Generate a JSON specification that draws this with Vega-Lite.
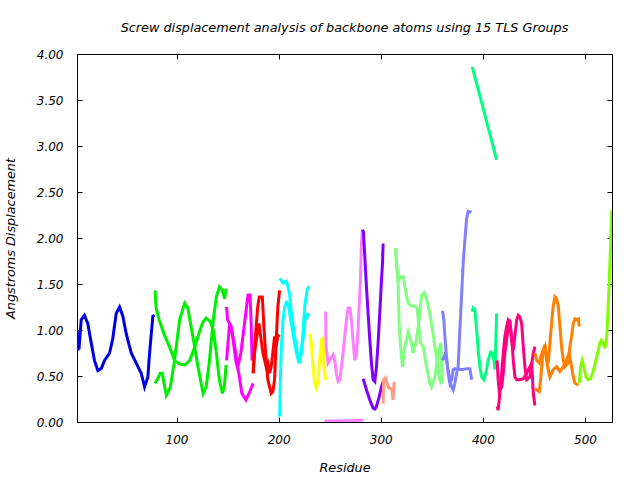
{
  "$schema": "https://vega.github.io/schema/vega-lite/v6.json",
  "width": 535,
  "height": 368,
  "autosize": {"type": "none"},
  "padding": {"left": 77, "top": 54, "right": 28, "bottom": 58},
  "background": "white",
  "title": {"text": "Screw displacement analysis of backbone atoms using 15 TLS Groups", "font": "DejaVu Sans", "fontStyle": "italic", "fontWeight": "normal", "fontSize": 12.8, "offset": 13, "anchor": "middle", "color": "black"},
  "config": {
    "view": {"stroke": "black", "strokeWidth": 1},
    "axis": {"grid": false, "domain": false, "tickColor": "black", "tickSize": -5, "labelFont": "DejaVu Sans", "labelFontStyle": "italic", "labelFontSize": 12, "labelColor": "black", "titleFont": "DejaVu Sans", "titleFontStyle": "italic", "titleFontWeight": "normal", "titleFontSize": 12.8, "titleColor": "black"}
  },
  "data": {"values": [
    {"g":"g1","t":"a","r":2.5,"v":1.00},{"g":"g1","t":"a","r":3.2,"v":0.79},{"g":"g1","t":"a","r":4.5,"v":0.80},{"g":"g1","t":"a","r":6.6,"v":1.11},{"g":"g1","t":"a","r":9.8,"v":1.16},{"g":"g1","t":"a","r":13.1,"v":1.07},{"g":"g1","t":"a","r":16.4,"v":0.86},{"g":"g1","t":"a","r":19.6,"v":0.67},{"g":"g1","t":"a","r":22.9,"v":0.56},{"g":"g1","t":"a","r":26.2,"v":0.58},{"g":"g1","t":"a","r":29.5,"v":0.67},{"g":"g1","t":"a","r":34.4,"v":0.75},{"g":"g1","t":"a","r":37.6,"v":0.91},{"g":"g1","t":"a","r":40.9,"v":1.18},{"g":"g1","t":"a","r":44.2,"v":1.25},{"g":"g1","t":"a","r":47.4,"v":1.15},{"g":"g1","t":"a","r":50.7,"v":0.96},{"g":"g1","t":"a","r":55.6,"v":0.75},{"g":"g1","t":"a","r":60.5,"v":0.64},{"g":"g1","t":"a","r":65.4,"v":0.53},{"g":"g1","t":"a","r":68.7,"v":0.38},{"g":"g1","t":"a","r":71.9,"v":0.49},{"g":"g1","t":"a","r":73.6,"v":0.75},{"g":"g1","t":"a","r":76.8,"v":1.15},{"g":"g1","t":"a","r":78.5,"v":1.16},
    {"g":"g2","t":"a","r":79,"v":1.43},{"g":"g2","t":"a","r":80,"v":1.24},{"g":"g2","t":"a","r":83,"v":1.11},{"g":"g2","t":"a","r":88,"v":0.95},{"g":"g2","t":"a","r":93,"v":0.82},{"g":"g2","t":"a","r":98,"v":0.67},{"g":"g2","t":"a","r":103,"v":0.63},{"g":"g2","t":"a","r":108,"v":0.62},{"g":"g2","t":"a","r":113,"v":0.67},{"g":"g2","t":"a","r":118,"v":0.82},{"g":"g2","t":"a","r":123,"v":1.0},{"g":"g2","t":"a","r":126,"v":1.09},{"g":"g2","t":"a","r":129,"v":1.13},{"g":"g2","t":"a","r":133,"v":1.09},{"g":"g2","t":"a","r":136,"v":1.0},{"g":"g2","t":"a","r":139,"v":0.75},{"g":"g2","t":"a","r":142,"v":0.45},{"g":"g2","t":"a","r":145,"v":0.31},{"g":"g2","t":"a","r":147,"v":0.40},{"g":"g2","t":"a","r":148.5,"v":0.62},
    {"g":"g2","t":"b","r":79,"v":0.42},{"g":"g2","t":"b","r":82,"v":0.48},{"g":"g2","t":"b","r":84,"v":0.53},{"g":"g2","t":"b","r":86,"v":0.53},{"g":"g2","t":"b","r":90,"v":0.29},{"g":"g2","t":"b","r":94,"v":0.38},{"g":"g2","t":"b","r":98,"v":0.67},{"g":"g2","t":"b","r":103,"v":1.11},{"g":"g2","t":"b","r":108,"v":1.29},{"g":"g2","t":"b","r":111,"v":1.24},{"g":"g2","t":"b","r":116,"v":0.93},{"g":"g2","t":"b","r":121,"v":0.60},{"g":"g2","t":"b","r":126,"v":0.31},{"g":"g2","t":"b","r":129,"v":0.38},{"g":"g2","t":"b","r":132,"v":0.64},{"g":"g2","t":"b","r":136,"v":1.11},{"g":"g2","t":"b","r":139,"v":1.36},{"g":"g2","t":"b","r":142,"v":1.47},{"g":"g2","t":"b","r":145,"v":1.43},{"g":"g2","t":"b","r":147,"v":1.34},{"g":"g2","t":"b","r":148.5,"v":1.45},
    {"g":"g3","t":"a","r":149,"v":1.25},{"g":"g3","t":"a","r":150,"v":1.11},{"g":"g3","t":"a","r":153.5,"v":1.04},{"g":"g3","t":"a","r":155,"v":0.93},{"g":"g3","t":"a","r":158,"v":0.67},{"g":"g3","t":"a","r":161,"v":0.53},{"g":"g3","t":"a","r":164,"v":0.31},{"g":"g3","t":"a","r":168,"v":0.24},{"g":"g3","t":"a","r":171,"v":0.31},{"g":"g3","t":"a","r":175,"v":0.42},
    {"g":"g3","t":"b","r":149,"v":0.67},{"g":"g3","t":"b","r":152,"v":1.07},{"g":"g3","t":"b","r":154,"v":1.0},{"g":"g3","t":"b","r":157,"v":0.82},{"g":"g3","t":"b","r":160,"v":0.60},{"g":"g3","t":"b","r":163,"v":0.75},{"g":"g3","t":"b","r":167,"v":1.11},{"g":"g3","t":"b","r":170,"v":1.38},{"g":"g3","t":"b","r":172,"v":1.38},{"g":"g3","t":"b","r":173,"v":1.1},{"g":"g3","t":"b","r":174,"v":0.67},
    {"g":"g4","t":"a","r":175,"v":0.53},{"g":"g4","t":"a","r":176.5,"v":0.82},{"g":"g4","t":"a","r":179.5,"v":1.25},{"g":"g4","t":"a","r":181,"v":1.36},{"g":"g4","t":"a","r":184,"v":1.36},{"g":"g4","t":"a","r":185.2,"v":1.11},{"g":"g4","t":"a","r":187.2,"v":0.75},{"g":"g4","t":"a","r":189.4,"v":0.46},{"g":"g4","t":"a","r":192.7,"v":0.31},{"g":"g4","t":"a","r":194.3,"v":0.33},{"g":"g4","t":"a","r":196,"v":0.46},{"g":"g4","t":"a","r":197.6,"v":0.89},{"g":"g4","t":"a","r":199.2,"v":1.25},{"g":"g4","t":"a","r":200.9,"v":1.43},
    {"g":"g4","t":"b","r":175,"v":0.53},{"g":"g4","t":"b","r":176.4,"v":0.75},{"g":"g4","t":"b","r":178.1,"v":0.89},{"g":"g4","t":"b","r":180.7,"v":1.07},{"g":"g4","t":"b","r":182.9,"v":0.89},{"g":"g4","t":"b","r":184.6,"v":0.75},{"g":"g4","t":"b","r":187.8,"v":0.60},{"g":"g4","t":"b","r":189.4,"v":0.64},{"g":"g4","t":"b","r":191.1,"v":0.53},{"g":"g4","t":"b","r":192.7,"v":0.60},{"g":"g4","t":"b","r":194.3,"v":0.75},{"g":"g4","t":"b","r":196,"v":0.93},{"g":"g4","t":"b","r":197.6,"v":0.82},{"g":"g4","t":"b","r":199.2,"v":0.93},{"g":"g4","t":"b","r":200.9,"v":0.95},
    {"g":"g5","t":"a","r":201,"v":1.56},{"g":"g5","t":"a","r":204.3,"v":1.51},{"g":"g5","t":"a","r":207.6,"v":1.53},{"g":"g5","t":"a","r":209.2,"v":1.47},{"g":"g5","t":"a","r":210.8,"v":1.38},{"g":"g5","t":"a","r":212.5,"v":1.18},{"g":"g5","t":"a","r":215.7,"v":0.93},{"g":"g5","t":"a","r":219,"v":0.71},{"g":"g5","t":"a","r":220.6,"v":0.64},{"g":"g5","t":"a","r":223.3,"v":0.89},{"g":"g5","t":"a","r":225.5,"v":1.25},{"g":"g5","t":"a","r":227.8,"v":1.43},{"g":"g5","t":"a","r":229.8,"v":1.48},
    {"g":"g5","t":"b","r":201,"v":0.06},{"g":"g5","t":"b","r":201.7,"v":0.46},{"g":"g5","t":"b","r":202.7,"v":0.82},{"g":"g5","t":"b","r":204.3,"v":1.11},{"g":"g5","t":"b","r":205.9,"v":1.25},{"g":"g5","t":"b","r":207.6,"v":1.30},{"g":"g5","t":"b","r":209.2,"v":1.28},{"g":"g5","t":"b","r":210.8,"v":1.18},{"g":"g5","t":"b","r":214.1,"v":0.96},{"g":"g5","t":"b","r":217.4,"v":0.75},{"g":"g5","t":"b","r":220,"v":0.64},{"g":"g5","t":"b","r":222.3,"v":0.75},{"g":"g5","t":"b","r":224.5,"v":0.96},{"g":"g5","t":"b","r":226.5,"v":1.18},{"g":"g5","t":"b","r":228,"v":1.14},{"g":"g5","t":"b","r":229.8,"v":1.18},
    {"g":"g6","t":"a","r":230.5,"v":0.96},{"g":"g6","t":"a","r":232,"v":0.86},{"g":"g6","t":"a","r":233.7,"v":0.60},{"g":"g6","t":"a","r":235.3,"v":0.42},{"g":"g6","t":"a","r":237,"v":0.37},{"g":"g6","t":"a","r":238.6,"v":0.45},{"g":"g6","t":"a","r":240.2,"v":0.68},{"g":"g6","t":"a","r":241.9,"v":0.89},{"g":"g6","t":"a","r":243.5,"v":0.91},{"g":"g6","t":"a","r":244.5,"v":0.60},{"g":"g6","t":"a","r":246,"v":0.46},
    {"g":"g7","t":"a","r":246,"v":1.20},{"g":"g7","t":"a","r":246.5,"v":0.82},{"g":"g7","t":"a","r":248.4,"v":0.64},{"g":"g7","t":"a","r":250,"v":0.67},{"g":"g7","t":"a","r":253.3,"v":0.73},{"g":"g7","t":"a","r":255,"v":0.67},{"g":"g7","t":"a","r":256.5,"v":0.53},{"g":"g7","t":"a","r":258.2,"v":0.44},{"g":"g7","t":"a","r":260,"v":0.46},{"g":"g7","t":"a","r":261.5,"v":0.60},{"g":"g7","t":"a","r":263.1,"v":0.75},{"g":"g7","t":"a","r":264.7,"v":0.93},{"g":"g7","t":"a","r":266.4,"v":1.11},{"g":"g7","t":"a","r":268,"v":1.24},{"g":"g7","t":"a","r":269.6,"v":1.24},{"g":"g7","t":"a","r":271.3,"v":1.11},{"g":"g7","t":"a","r":273,"v":0.86},{"g":"g7","t":"a","r":274.5,"v":0.67},{"g":"g7","t":"a","r":276.2,"v":0.73},{"g":"g7","t":"a","r":277.8,"v":1.0},{"g":"g7","t":"a","r":278.8,"v":1.25},{"g":"g7","t":"a","r":280.1,"v":1.54},{"g":"g7","t":"a","r":281,"v":1.91},{"g":"g7","t":"a","r":282,"v":2.09},
    {"g":"g7","t":"b","r":245,"v":0.01},{"g":"g7","t":"b","r":260,"v":0.01},{"g":"g7","t":"b","r":275,"v":0.015},{"g":"g7","t":"b","r":282.7,"v":0.02},
    {"g":"g8","t":"a","r":282,"v":2.09},{"g":"g8","t":"a","r":283,"v":2.07},{"g":"g8","t":"a","r":284.4,"v":1.80},{"g":"g8","t":"a","r":286,"v":1.47},{"g":"g8","t":"a","r":287.6,"v":1.18},{"g":"g8","t":"a","r":289.3,"v":0.89},{"g":"g8","t":"a","r":290.9,"v":0.64},{"g":"g8","t":"a","r":292.5,"v":0.46},{"g":"g8","t":"a","r":294.2,"v":0.44},{"g":"g8","t":"a","r":295.8,"v":0.60},{"g":"g8","t":"a","r":297.4,"v":0.86},{"g":"g8","t":"a","r":299,"v":1.18},{"g":"g8","t":"a","r":300.7,"v":1.54},{"g":"g8","t":"a","r":301.7,"v":1.72},{"g":"g8","t":"a","r":302.3,"v":1.94},
    {"g":"g8","t":"b","r":282.7,"v":0.47},{"g":"g8","t":"b","r":286,"v":0.35},{"g":"g8","t":"b","r":289.3,"v":0.24},{"g":"g8","t":"b","r":292.5,"v":0.15},{"g":"g8","t":"b","r":294.2,"v":0.14},{"g":"g8","t":"b","r":295.8,"v":0.17},{"g":"g8","t":"b","r":298.4,"v":0.27},{"g":"g8","t":"b","r":300.7,"v":0.38},{"g":"g8","t":"b","r":302.3,"v":0.44},
    {"g":"g9","t":"a","r":302.3,"v":0.20},{"g":"g9","t":"a","r":302.8,"v":0.46},{"g":"g9","t":"a","r":304.6,"v":0.48},{"g":"g9","t":"a","r":306.2,"v":0.42},{"g":"g9","t":"a","r":307.8,"v":0.37},{"g":"g9","t":"a","r":309.4,"v":0.37},{"g":"g9","t":"a","r":311,"v":0.35},{"g":"g9","t":"a","r":312,"v":0.24},{"g":"g9","t":"a","r":313,"v":0.42},{"g":"g9","t":"a","r":314.3,"v":0.43},
    {"g":"g10","t":"a","r":314.7,"v":1.89},{"g":"g10","t":"a","r":315.4,"v":1.69},{"g":"g10","t":"a","r":317,"v":1.54},{"g":"g10","t":"a","r":319.4,"v":1.58},{"g":"g10","t":"a","r":322,"v":1.58},{"g":"g10","t":"a","r":323.6,"v":1.47},{"g":"g10","t":"a","r":326.9,"v":1.29},{"g":"g10","t":"a","r":330.1,"v":1.26},{"g":"g10","t":"a","r":333.4,"v":1.26},{"g":"g10","t":"a","r":335.7,"v":1.24},{"g":"g10","t":"a","r":337.6,"v":1.0},{"g":"g10","t":"a","r":339,"v":0.86},{"g":"g10","t":"a","r":341.6,"v":0.82},{"g":"g10","t":"a","r":344.8,"v":0.60},{"g":"g10","t":"a","r":348.1,"v":0.42},{"g":"g10","t":"a","r":349.7,"v":0.38},{"g":"g10","t":"a","r":353,"v":0.49},{"g":"g10","t":"a","r":356.2,"v":0.75},{"g":"g10","t":"a","r":358.9,"v":0.86},{"g":"g10","t":"a","r":360.2,"v":0.42},
    {"g":"g10","t":"b","r":314.7,"v":1.89},{"g":"g10","t":"b","r":315.4,"v":1.76},{"g":"g10","t":"b","r":317,"v":1.54},{"g":"g10","t":"b","r":318,"v":1.07},{"g":"g10","t":"b","r":319.4,"v":0.82},{"g":"g10","t":"b","r":321.3,"v":0.60},{"g":"g10","t":"b","r":323.6,"v":0.82},{"g":"g10","t":"b","r":326.9,"v":0.98},{"g":"g10","t":"b","r":330.1,"v":0.86},{"g":"g10","t":"b","r":331.7,"v":0.75},{"g":"g10","t":"b","r":334.4,"v":0.86},{"g":"g10","t":"b","r":337.6,"v":1.11},{"g":"g10","t":"b","r":340,"v":1.38},{"g":"g10","t":"b","r":342.6,"v":1.41},{"g":"g10","t":"b","r":344.8,"v":1.34},{"g":"g10","t":"b","r":348.1,"v":1.18},{"g":"g10","t":"b","r":350.7,"v":1.0},{"g":"g10","t":"b","r":353,"v":0.82},{"g":"g10","t":"b","r":356.2,"v":0.60},{"g":"g10","t":"b","r":357.9,"v":0.46},{"g":"g10","t":"b","r":359.5,"v":0.41},
    {"g":"g11","t":"a","r":360.5,"v":1.21},{"g":"g11","t":"a","r":361.8,"v":1.11},{"g":"g11","t":"a","r":362.8,"v":0.93},{"g":"g11","t":"a","r":364.4,"v":0.71},{"g":"g11","t":"a","r":366,"v":0.53},{"g":"g11","t":"a","r":367.7,"v":0.42},{"g":"g11","t":"a","r":369.4,"v":0.46},{"g":"g11","t":"a","r":371,"v":0.57},{"g":"g11","t":"a","r":372.6,"v":0.58},{"g":"g11","t":"a","r":374.9,"v":0.57},{"g":"g11","t":"a","r":377.5,"v":0.57},{"g":"g11","t":"a","r":380.7,"v":0.57},{"g":"g11","t":"a","r":384,"v":0.58},{"g":"g11","t":"a","r":387.3,"v":0.58},{"g":"g11","t":"a","r":389,"v":0.46},
    {"g":"g11","t":"b","r":360.5,"v":0.67},{"g":"g11","t":"b","r":362.8,"v":0.73},{"g":"g11","t":"b","r":364.4,"v":0.67},{"g":"g11","t":"b","r":366,"v":0.57},{"g":"g11","t":"b","r":367.7,"v":0.46},{"g":"g11","t":"b","r":369.4,"v":0.38},{"g":"g11","t":"b","r":371,"v":0.35},{"g":"g11","t":"b","r":372.6,"v":0.42},{"g":"g11","t":"b","r":374.3,"v":0.53},{"g":"g11","t":"b","r":375.8,"v":0.60},{"g":"g11","t":"b","r":377.5,"v":1.0},{"g":"g11","t":"b","r":379.1,"v":1.36},{"g":"g11","t":"b","r":380.7,"v":1.72},{"g":"g11","t":"b","r":382.4,"v":1.98},{"g":"g11","t":"b","r":384,"v":2.20},{"g":"g11","t":"b","r":385.6,"v":2.29},{"g":"g11","t":"b","r":389,"v":2.28},
    {"g":"g12","t":"a","r":389.6,"v":1.20},{"g":"g12","t":"a","r":390.5,"v":1.24},{"g":"g12","t":"a","r":392.2,"v":1.22},{"g":"g12","t":"a","r":393.9,"v":1.0},{"g":"g12","t":"a","r":395.4,"v":0.78},{"g":"g12","t":"a","r":397.1,"v":0.60},{"g":"g12","t":"a","r":398.8,"v":0.49},{"g":"g12","t":"a","r":401,"v":0.46},{"g":"g12","t":"a","r":403,"v":0.53},{"g":"g12","t":"a","r":405.2,"v":0.67},{"g":"g12","t":"a","r":407.6,"v":0.76},{"g":"g12","t":"a","r":409.5,"v":0.75},{"g":"g12","t":"a","r":410.8,"v":0.67},{"g":"g12","t":"a","r":412,"v":0.57},{"g":"g12","t":"a","r":413.5,"v":1.18},
    {"g":"g12","t":"b","r":389.6,"v":3.86},{"g":"g12","t":"b","r":401.5,"v":3.36},{"g":"g12","t":"b","r":413.5,"v":2.85},
    {"g":"g13","t":"a","r":414,"v":0.17},{"g":"g13","t":"a","r":415,"v":0.13},{"g":"g13","t":"a","r":416.7,"v":0.31},{"g":"g13","t":"a","r":418.4,"v":0.53},{"g":"g13","t":"a","r":420,"v":0.75},{"g":"g13","t":"a","r":421.6,"v":0.93},{"g":"g13","t":"a","r":423.3,"v":1.04},{"g":"g13","t":"a","r":424.9,"v":1.11},{"g":"g13","t":"a","r":426.5,"v":1.09},{"g":"g13","t":"a","r":428.2,"v":0.93},{"g":"g13","t":"a","r":429.8,"v":0.67},{"g":"g13","t":"a","r":431.4,"v":0.49},{"g":"g13","t":"a","r":433.1,"v":0.46},{"g":"g13","t":"a","r":436.3,"v":0.46},{"g":"g13","t":"a","r":439.6,"v":0.47},{"g":"g13","t":"a","r":442.9,"v":0.53},{"g":"g13","t":"a","r":446.1,"v":0.60},{"g":"g13","t":"a","r":447.8,"v":0.64},{"g":"g13","t":"a","r":449.4,"v":0.31},{"g":"g13","t":"a","r":451,"v":0.18},
    {"g":"g13","t":"b","r":414,"v":0.67},{"g":"g13","t":"b","r":415,"v":0.46},{"g":"g13","t":"b","r":416.1,"v":0.33},{"g":"g13","t":"b","r":418.4,"v":0.38},{"g":"g13","t":"b","r":420,"v":0.53},{"g":"g13","t":"b","r":421.6,"v":0.75},{"g":"g13","t":"b","r":423.3,"v":0.89},{"g":"g13","t":"b","r":424.9,"v":1.04},{"g":"g13","t":"b","r":426.5,"v":1.07},{"g":"g13","t":"b","r":428.2,"v":0.89},{"g":"g13","t":"b","r":429.8,"v":0.78},{"g":"g13","t":"b","r":431.4,"v":0.93},{"g":"g13","t":"b","r":433.1,"v":1.11},{"g":"g13","t":"b","r":434.7,"v":1.16},{"g":"g13","t":"b","r":436.3,"v":1.14},{"g":"g13","t":"b","r":438,"v":1.07},{"g":"g13","t":"b","r":439.6,"v":0.82},{"g":"g13","t":"b","r":441.2,"v":0.60},{"g":"g13","t":"b","r":442.9,"v":0.46},{"g":"g13","t":"b","r":446.1,"v":0.49},{"g":"g13","t":"b","r":449.4,"v":0.75},{"g":"g13","t":"b","r":451,"v":0.82},
    {"g":"g14","t":"a","r":451,"v":0.36},{"g":"g14","t":"a","r":452.7,"v":0.35},{"g":"g14","t":"a","r":455.3,"v":0.33},{"g":"g14","t":"a","r":456.6,"v":0.46},{"g":"g14","t":"a","r":458.2,"v":0.67},{"g":"g14","t":"a","r":459.2,"v":0.78},{"g":"g14","t":"a","r":460.8,"v":0.84},{"g":"g14","t":"a","r":462.4,"v":0.71},{"g":"g14","t":"a","r":464.1,"v":0.64},{"g":"g14","t":"a","r":465.7,"v":0.86},{"g":"g14","t":"a","r":467.3,"v":1.07},{"g":"g14","t":"a","r":469,"v":1.26},{"g":"g14","t":"a","r":470.6,"v":1.36},{"g":"g14","t":"a","r":472.2,"v":1.34},{"g":"g14","t":"a","r":473.9,"v":1.26},{"g":"g14","t":"a","r":475.5,"v":1.04},{"g":"g14","t":"a","r":477.1,"v":0.82},{"g":"g14","t":"a","r":478.8,"v":0.67},{"g":"g14","t":"a","r":480.4,"v":0.60},{"g":"g14","t":"a","r":483.7,"v":0.64},{"g":"g14","t":"a","r":485.3,"v":0.82},{"g":"g14","t":"a","r":486.9,"v":0.93},{"g":"g14","t":"a","r":488.6,"v":1.07},{"g":"g14","t":"a","r":490.2,"v":1.12},{"g":"g14","t":"a","r":491.8,"v":1.11},{"g":"g14","t":"a","r":493.5,"v":1.12},{"g":"g14","t":"a","r":494.4,"v":1.04},
    {"g":"g14","t":"b","r":451,"v":0.75},{"g":"g14","t":"b","r":452.7,"v":0.67},{"g":"g14","t":"b","r":455.3,"v":0.64},{"g":"g14","t":"b","r":456.6,"v":0.71},{"g":"g14","t":"b","r":459.2,"v":0.78},{"g":"g14","t":"b","r":460.8,"v":0.82},{"g":"g14","t":"b","r":462.4,"v":0.67},{"g":"g14","t":"b","r":464.1,"v":0.56},{"g":"g14","t":"b","r":465.7,"v":0.49},{"g":"g14","t":"b","r":469,"v":0.57},{"g":"g14","t":"b","r":472.2,"v":0.60},{"g":"g14","t":"b","r":475.5,"v":0.55},{"g":"g14","t":"b","r":478.8,"v":0.60},{"g":"g14","t":"b","r":482,"v":0.67},{"g":"g14","t":"b","r":484.5,"v":0.75},{"g":"g14","t":"b","r":486.9,"v":0.60},{"g":"g14","t":"b","r":488.6,"v":0.49},{"g":"g14","t":"b","r":490.2,"v":0.42},{"g":"g14","t":"b","r":493.5,"v":0.40},
    {"g":"g15","t":"a","r":494.4,"v":0.42},{"g":"g15","t":"a","r":495.7,"v":0.60},{"g":"g15","t":"a","r":497.3,"v":0.67},{"g":"g15","t":"a","r":499,"v":0.60},{"g":"g15","t":"a","r":500.9,"v":0.49},{"g":"g15","t":"a","r":503.2,"v":0.46},{"g":"g15","t":"a","r":505.5,"v":0.47},{"g":"g15","t":"a","r":508.1,"v":0.55},{"g":"g15","t":"a","r":510.7,"v":0.67},{"g":"g15","t":"a","r":513,"v":0.78},{"g":"g15","t":"a","r":514.6,"v":0.86},{"g":"g15","t":"a","r":516.2,"v":0.89},{"g":"g15","t":"a","r":517.9,"v":0.86},{"g":"g15","t":"a","r":519.5,"v":0.80},{"g":"g15","t":"a","r":521.1,"v":0.89},{"g":"g15","t":"a","r":522.8,"v":1.25},{"g":"g15","t":"a","r":523.8,"v":1.54},{"g":"g15","t":"a","r":525.1,"v":1.91},{"g":"g15","t":"a","r":526.2,"v":2.30}
  ]},
  "layer": [
    {
      "mark": {"type": "line", "strokeWidth": 3, "clip": true},
      "encoding": {
        "x": {"field": "r", "type": "quantitative", "scale": {"domain": [2.5, 526.5], "nice": false, "zero": false},
              "axis": {"orient": "bottom", "values": [100, 200, 300, 400, 500], "title": "Residue", "labelPadding": 17, "titlePadding": 16}},
        "y": {"field": "v", "type": "quantitative", "scale": {"domain": [0, 4], "nice": false},
              "axis": {"orient": "left", "values": [0, 0.5, 1, 1.5, 2, 2.5, 3, 3.5, 4], "format": ".2f", "title": "Angstroms Displacement", "labelPadding": 19, "titlePadding": 19}},
        "color": {"field": "g", "type": "nominal", "legend": null,
                  "scale": {"domain": ["g1","g2","g3","g4","g5","g6","g7","g8","g9","g10","g11","g12","g13","g14","g15"],
                            "range": ["#0000e6","#00ee00","#ff00ff","#ff0000","#00ffff","#ffff00","#ff80ff","#8000ff","#ff9a80","#80ff80","#8080ff","#00ff80","#ff0080","#ff8000","#80ff00"]}},
        "detail": {"field": "t", "type": "nominal"}
      }
    },
    {
      "mark": {"type": "line", "opacity": 0},
      "encoding": {
        "x": {"field": "r", "type": "quantitative", "axis": {"orient": "top", "values": [100, 200, 300, 400, 500], "labels": false, "title": null}},
        "y": {"field": "v", "type": "quantitative", "axis": {"orient": "right", "values": [0, 0.5, 1, 1.5, 2, 2.5, 3, 3.5, 4], "labels": false, "title": null}}
      }
    }
  ],
  "resolve": {"axis": {"x": "independent", "y": "independent"}}
}
